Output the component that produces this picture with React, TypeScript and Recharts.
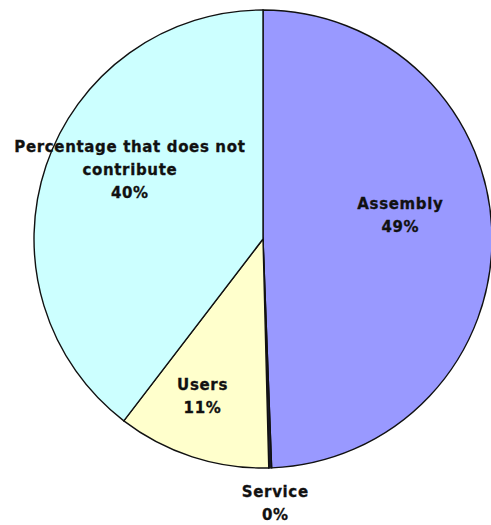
import React from "react";
import { PieChart, Pie, Cell } from "recharts";

const categories = ["Assembly", "Service", "Users", "Percentage that does not contribute"];
const shares = [49.4, 0.2, 10.8, 39.6];
const colors = ["#9999FF", "#1a1a33", "#FFFFCC", "#CCFFFF"];

const data = categories.map((name, i) => ({ name, value: shares[i] }));
const total = shares.reduce((a, b) => a + b, 0);

// label placement tweaks (radius fraction of outer radius + pixel nudges)
const labelPlacement: Record<string, { f: number; dx: number; dy: number }> = {
  Assembly: { f: 0.6, dx: 0, dy: -21 },
  Service: { f: 1.152, dx: 4, dy: 0 },
  Users: { f: 0.6, dx: -18, dy: 26 },
  "Percentage that does not contribute": { f: 0.6, dx: -3, dy: -25 },
};

const wrap = (text: string, max: number) => {
  const words = text.split(" ");
  const lines: string[] = [];
  let cur = "";
  words.forEach((w) => {
    const next = cur ? cur + " " + w : w;
    if (next.length > max && cur) {
      lines.push(cur);
      cur = w;
    } else cur = next;
  });
  if (cur) lines.push(cur);
  return lines;
};

const RAD = Math.PI / 180;

const renderLabel = (props: any) => {
  const { cx, cy, midAngle, outerRadius, index } = props;
  const name = categories[index];
  const p = labelPlacement[name];
  const r = outerRadius * p.f;
  const x = cx + r * Math.cos(-midAngle * RAD) + p.dx;
  const y = cy + r * Math.sin(-midAngle * RAD) + p.dy;
  const lines = [...wrap(name, 24), Math.round((shares[index] / total) * 100) + "%"];
  const lh = 23;
  const y0 = y - ((lines.length - 1) / 2) * lh + 5.5;
  return (
    <text
      key={"lbl" + index}
      x={x}
      y={y0}
      textAnchor="middle"
      fill="#111"
      stroke="#111"
      strokeWidth={0.3}
      fontFamily="'DejaVu Sans', sans-serif"
      fontWeight="bold"
      fontSize={15}
      letterSpacing={0.65}
    >
      {lines.map((l, i) => (
        <tspan key={i} x={x} y={y0 + i * lh}>
          {l}
        </tspan>
      ))}
    </text>
  );
};

export default function App() {
  return (
    <div style={{ position: "absolute", left: 0, top: 0, width: 491, height: 525, background: "#fff" }}>
      <PieChart width={491} height={525} margin={{ top: 0, right: 0, bottom: 0, left: 0 }}>
        <Pie
          data={data}
          dataKey="value"
          nameKey="name"
          cx={263}
          cy={239}
          outerRadius={229}
          startAngle={90}
          endAngle={-270}
          stroke="#111"
          strokeWidth={1.4}
          label={renderLabel}
          labelLine={false}
          isAnimationActive={false}
        >
          {data.map((d, i) => (
            <Cell key={d.name} fill={colors[i]} />
          ))}
        </Pie>
      </PieChart>
    </div>
  );
}
